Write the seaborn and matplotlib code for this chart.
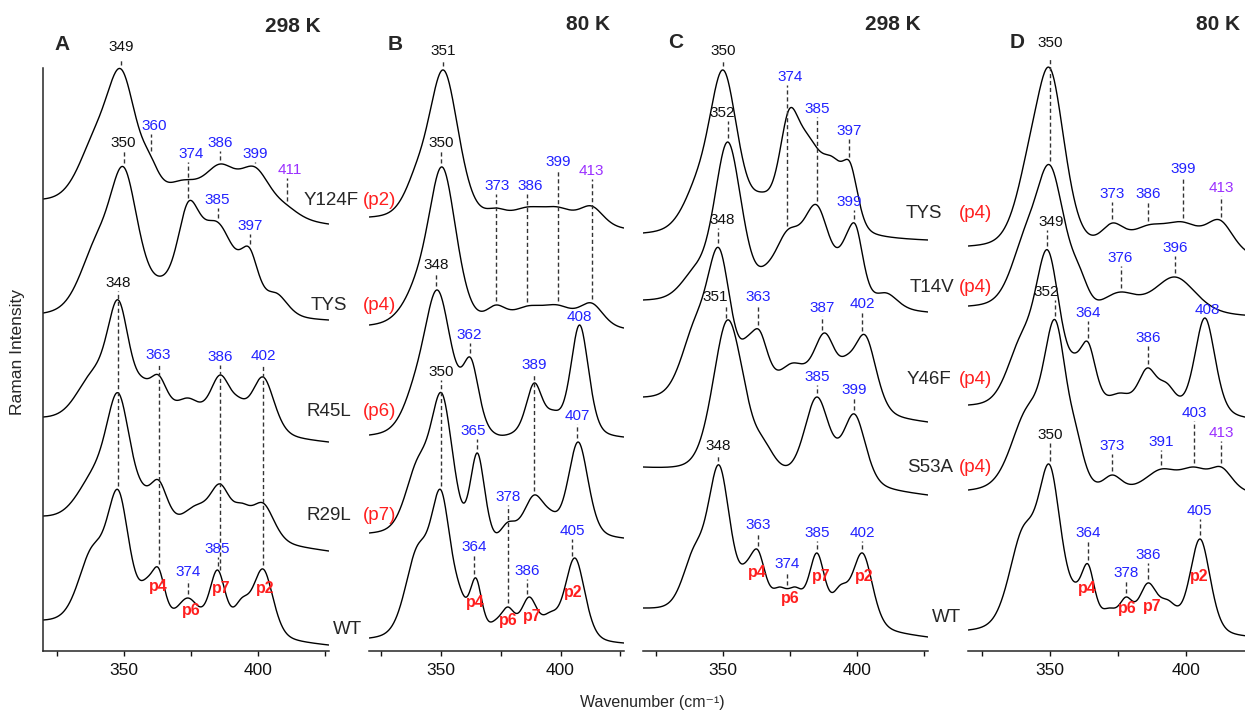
import numpy as np
import pandas as pd
import matplotlib
matplotlib.use("Agg")
import matplotlib.pyplot as plt
import seaborn as sns

# ---------------------------
# Data
# each point: (wavenumber cm-1, curve height there, band half width)
# heights in arbitrary intensity units (stack offsets included)
# ---------------------------
a_names = ["Y124F", "TYS", "R45L", "R29L", "WT"]
a_tags = ["(p2)", "(p4)", "(p6)", "(p7)", ""]
a_peaks = [
    [(338, 516, 7), (349, 582, 7), (360, 496, 4), (372, 471, 8), (386, 487, 7), (399, 484, 7), (411, 446, 6)],
    [(339, 412, 7), (350, 484, 6.5), (364, 375, 6), (374, 449, 5), (385, 429, 8), (397, 403, 4), (407, 358, 5)],
    [(338, 280, 7), (348, 351, 5), (357, 274, 4), (363, 276, 4), (374, 253, 6), (386, 276, 4.5),
     (393, 254, 4), (402, 274, 5)],
    [(338, 181, 7), (348, 258, 5.5), (357, 168, 4), (363, 171, 4), (377, 146, 6), (386, 167, 4.5),
     (394, 148, 4), (402, 148, 5)],
    [(338, 104, 6), (348, 161, 5), (358.5, 73, 3.5), (363, 83, 3), (374, 53, 5), (385, 81, 3.5),
     (394, 53, 3.5), (402, 82, 4.5)],
]
a_ends = [(452, 427), (338, 331), (234, 209), (135, 100), (31, 6)]

b_peaks = [
    [(339, 484, 6), (351, 581, 7.5), (373, 443, 5), (386, 444, 8), (399, 444, 8), (413, 445, 6)],
    [(339, 375, 7), (350.5, 484, 7), (373, 346, 5), (386, 345, 8), (399, 346, 8), (413, 348, 6)],
    [(338, 270, 6), (348.5, 361, 7), (362.5, 293, 4), (374.5, 216, 5), (389, 268, 4), (397, 241, 4),
     (408, 326, 4.5)],
    [(340, 192, 6), (350.3, 258, 5.5), (359.3, 148, 3.5), (365.2, 198, 3.5), (372.6, 119, 3.5), (378, 129, 3.5),
     (389, 156, 5), (396, 141, 4), (407.4, 209, 5)],
    [(340, 105, 6), (350, 161, 5), (358, 64, 3.5), (364.6, 73, 3), (372.6, 31, 3.5),
     (378, 44, 3.5), (386.9, 54, 4), (395.6, 39, 4), (406, 93, 5)],
]
b_ends = [(434, 423), (326, 323), (216, 214), (118, 113), (13, 8)]

c_names = ["TYS", "T14V", "Y46F", "S53A", "WT"]
c_tags = ["(p4)", "(p4)", "(p4)", "(p4)", ""]
c_peaks = [
    [(339, 471, 6), (350, 581, 6.5), (364.5, 459, 5), (374.5, 541, 4.5), (382, 515, 6), (391, 494, 5),
     (397.5, 488, 3.5)],
    [(339, 384, 6), (351.7, 509, 6), (358, 430, 4), (365.6, 386, 4.5), (374, 421, 6), (385, 446, 6),
     (395.4, 413, 4), (399.5, 426, 3.5), (411, 358, 5)],
    [(339, 330, 6), (348.5, 403, 5.5), (358.7, 314, 3.5), (363.5, 321, 4), (376, 288, 7), (388, 318, 5),
     (396, 296, 4), (403, 316, 5)],
    [(351.6, 331, 6.5), (357.4, 278, 4), (365, 213, 5), (385, 254, 5.5), (399, 237, 5)],
    [(339, 104, 5), (348.5, 186, 5), (358.5, 89, 3.5), (363, 101, 3.5), (371, 64, 3.5), (377, 64, 3.5),
     (385, 98, 3.5), (393.7, 66, 3.5), (402, 98, 4.5)],
]
c_ends = [(418, 411), (351, 339), (254, 229), (184, 156), (43, 14)]

d_peaks = [
    [(341.5, 501, 6), (350, 583, 6.5), (366.5, 416, 4), (373, 428, 5), (386, 426, 8),
     (399, 429, 8), (412.5, 431, 6)],
    [(340, 418, 6), (350, 486, 6.5), (361, 384, 4), (366, 354, 4), (376, 359, 7), (396, 374, 9)],
    [(339, 315, 6), (349.2, 401, 5.5), (359, 298, 3.5), (364, 309, 3.5), (375.8, 258, 5),
     (385.8, 283, 4), (393, 268, 4), (407, 333, 4.5)],
    [(341.5, 244, 7), (352, 331, 5), (359.8, 224, 3.5), (367.8, 169, 4), (373, 176, 4),
     (391, 182, 7), (403, 184, 6), (413, 184, 5)],
    [(340, 124, 6), (350, 186, 5), (359.2, 69, 3.5), (364, 87, 3), (371.8, 43, 3.5),
     (378, 54, 3), (386, 68, 4), (393.5, 51, 4), (405.2, 112, 4.5)],
]
d_ends = [(405, 395), (345, 335), (246, 232), (161, 158), (21, 14)]

# peak labels: (text, line x, text shift, label height, spectrum index, colour key)
a_marks = [
    ("349", 349, 0, 604, 0, "k"), ("360", 360, 1.5, 525, 0, "b"), ("350", 350, 0, 508, 1, "k"),
    ("374", 374, 1, 497, 1, "b"), ("386", 386, 0, 508, 0, "b"), ("399", 399, 0, 497, 0, "b"),
    ("411", 411, 1, 481, 0, "p"), ("385", 385, 0, 451, 1, "b"), ("397", 397, 0, 425, 1, "b"),
    ("348", 348, 0, 368, 4, "k"), ("363", 363, 0, 296, 4, "b"), ("386", 386, 0, 294, 4, "b"),
    ("402", 402, 0, 295, 4, "b"), ("374", 374, 0, 79, 4, "b"), ("385", 385, 0, 102, 4, "b"),
]
b_marks = [
    ("351", 351, 0, 600, 0, "k"), ("350", 350, 0, 508, 1, "k"), ("373", 373, 0.5, 465, 1, "b"),
    ("386", 386, 1.5, 465, 1, "b"), ("399", 399, 0, 489, 1, "b"), ("413", 413, 0, 480, 1, "p"),
    ("348", 348, 0, 386, 2, "k"), ("408", 408, 0, 334, 2, "b"), ("362", 362, 0, 316, 2, "b"),
    ("389", 389, 0, 286, 3, "b"), ("350", 350, 0, 279, 4, "k"), ("365", 365, -1.5, 220, 3, "b"),
    ("407", 407, 0, 235, 3, "b"), ("378", 378, 0, 154, 4, "b"), ("364", 364, 0, 104, 4, "b"),
    ("386", 386, 0, 80, 4, "b"), ("405", 405, 0, 120, 4, "b"),
]
c_marks = [
    ("350", 350, 0, 600, 0, "k"), ("374", 374, 1, 574, 1, "b"), ("352", 352, -2.5, 538, 1, "k"),
    ("385", 385, 0, 542, 1, "b"), ("397", 397, 0, 520, 0, "b"), ("399", 399, -2, 449, 1, "b"),
    ("348", 348, 1.5, 431, 2, "k"), ("351", 351, -4, 354, 3, "k"), ("363", 363, 0, 354, 2, "b"),
    ("387", 387, 0, 343, 2, "b"), ("402", 402, 0, 347, 2, "b"), ("385", 385, 0, 274, 3, "b"),
    ("399", 399, 0, 261, 3, "b"), ("348", 348, 0, 205, 4, "k"), ("363", 363, 0, 126, 4, "b"),
    ("374", 374, 0, 87, 4, "b"), ("385", 385, 0, 118, 4, "b"), ("402", 402, 0, 118, 4, "b"),
]
d_marks = [
    ("350", 350, 0, 608, 1, "k"), ("373", 373, 0, 457, 0, "b"), ("386", 386, 0, 457, 0, "b"),
    ("399", 399, 0, 482, 0, "b"), ("413", 413, 0, 463, 0, "p"), ("349", 349, 1.5, 429, 2, "k"),
    ("376", 376, 0, 393, 1, "b"), ("396", 396, 0, 403, 1, "b"), ("352", 352, -3.5, 359, 3, "k"),
    ("364", 364, 0, 338, 2, "b"), ("408", 408, 0, 341, 2, "b"), ("386", 386, 0, 313, 2, "b"),
    ("403", 403, 0, 238, 3, "b"), ("413", 413, 0, 218, 3, "p"), ("373", 373, 0, 205, 3, "b"),
    ("391", 391, 0, 209, 3, "b"), ("350", 350, 0, 216, 4, "k"), ("364", 364, 0, 118, 4, "b"),
    ("378", 378, 0, 78, 4, "b"), ("386", 386, 0, 96, 4, "b"), ("405", 405, 0, 140, 4, "b"),
]

# WT site labels: (text, x, height)
a_sites = [("p4", 362.9, 65), ("p6", 375.2, 41), ("p7", 386.4, 62), ("p2", 402.8, 62)]
b_sites = [("p4", 364.2, 48), ("p6", 378.0, 30), ("p7", 388.0, 35), ("p2", 405.2, 59)]
c_sites = [("p4", 362.6, 78), ("p6", 375.0, 52), ("p7", 386.5, 75), ("p2", 402.6, 74)]
d_sites = [("p4", 363.6, 63), ("p6", 378.3, 43), ("p7", 387.5, 44), ("p2", 404.8, 74)]

panel_letters = ["A", "B", "C", "D"]
panel_temps = ["298 K", "80 K", "298 K", "80 K"]

# ---------------------------
# Layout (pixels of the 1245x711 image)
# ---------------------------
W, H = 1245, 711
X_MIN, X_MAX = 320, 426.5
AX_BOTTOM, AX_TOP = 651, 60
panel_px = [(43.3, 2.68), (369.3, 2.39), (642.7, 2.68), (968.3, 2.72)]   # left edge, px per cm-1
letter_pos = [(62, 45), (395, 45), (676, 43), (1017, 43)]
temp_pos = [(293, 26), (588, 25), (893, 25), (1218, 25)]
a_label_y = [200, 305, 412, 515, 630]
a_name_x = [331, 329, 329, 329, 347]
c_label_y = [213, 287, 380, 468, 617]
c_name_x = [924, 932, 929, 930, 946]

COLORS = {"k": "#111111", "b": "#2222ff", "p": "#9b30ff"}
RED = "#ff1f1f"

wn = np.linspace(X_MIN, X_MAX, 800)


def profile(x, c, w, eta=0.35):
    u = (x - c) / w
    return (1 - eta) * np.exp(-np.log(2) * u ** 2) + eta / (1 + u ** 2)


def build_spectrum(peaks, ends):
    # band amplitudes + linear baseline so the curve passes through the read heights
    c = np.array([p[0] for p in peaks], float)
    h = np.array([p[1] for p in peaks], float)
    w = np.array([p[2] for p in peaks], float)
    pts = np.r_[c, X_MIN, X_MAX]
    target = np.r_[h, ends]
    t = (pts - X_MIN) / (X_MAX - X_MIN)
    M = np.column_stack([profile(pts, ci, wi) for ci, wi in zip(c, w)] + [1 - t, t])
    coef = np.linalg.solve(M, target)
    T = (wn - X_MIN) / (X_MAX - X_MIN)
    y = coef[-2] * (1 - T) + coef[-1] * T
    for a, ci, wi in zip(coef[:-2], c, w):
        y = y + a * profile(wn, ci, wi)
    return y


sns.set_theme(style="ticks")
plt.rcParams["font.family"] = ["Liberation Sans", "DejaVu Sans"]

fig = plt.figure(figsize=(W / 100, H / 100), dpi=100)


def fig_text(x, y, s, **kw):
    fig.text(x / W, 1 - y / H, s, **kw)


panels = [
    (a_names, a_peaks, a_ends, a_marks, a_sites),
    (a_names, b_peaks, b_ends, b_marks, b_sites),
    (c_names, c_peaks, c_ends, c_marks, c_sites),
    (c_names, d_peaks, d_ends, d_marks, d_sites),
]

for i, (names, peaks, ends, marks, sites) in enumerate(panels):
    left, scale = panel_px[i]
    width = (X_MAX - X_MIN) * scale
    ax = fig.add_axes([left / W, (H - AX_BOTTOM) / H, width / W, (AX_BOTTOM - AX_TOP) / H])

    curves = [build_spectrum(p, e) for p, e in zip(peaks, ends)]
    df = pd.concat([pd.DataFrame({"wavenumber": wn, "intensity": y, "sample": f"{n}_{k}"})
                    for k, (n, y) in enumerate(zip(names, curves))])
    sns.lineplot(data=df, x="wavenumber", y="intensity", units="sample", estimator=None,
                 sort=False, color="black", lw=1.0, ax=ax, legend=False)

    for text, xl, dx, ty, k, ck in marks:
        yc = np.interp(xl, wn, curves[k])
        top, bottom = ty - 8, yc + 4
        if top > bottom:
            ax.plot([xl, xl], [bottom, top], ls=(0, (3, 2)), color="#333333", lw=1.0)
        ax.text(xl + dx, ty, text, ha="center", va="center", fontsize=11,
                color=COLORS[ck], clip_on=False)

    for text, xs, ys in sites:
        ax.text(xs, ys, text, ha="center", va="center", fontsize=11.5,
                fontweight="bold", color=RED)

    ax.set_xlim(X_MIN, X_MAX)
    ax.set_ylim(0, AX_BOTTOM - AX_TOP)
    ax.set_xticks([350, 400])
    ax.set_xticks([325, 375, 425], minor=True)
    ax.set_yticks([])
    ax.set_xlabel("")
    ax.set_ylabel("")
    ax.tick_params(axis="x", which="both", direction="out", length=3.5, width=1.0,
                   labelsize=12.5, pad=5, colors="#111111")
    sns.despine(ax=ax, left=(i != 0))
    ax.spines["bottom"].set_linewidth(1.1)
    if i == 0:
        ax.spines["left"].set_linewidth(1.1)
        ax.spines["left"].set_bounds(0, AX_BOTTOM - 68)

    fig_text(*letter_pos[i], panel_letters[i], ha="center", va="center",
             fontsize=15, fontweight="bold")
    fig_text(*temp_pos[i], panel_temps[i], ha="center", va="center",
             fontsize=15, fontweight="bold")

# sample names between panels
for name, tag, x, y in zip(a_names, a_tags, a_name_x, a_label_y):
    fig_text(x, y, name, ha="center", va="center", fontsize=13.5)
    if tag:
        fig_text(380, y, tag, ha="center", va="center", fontsize=13.5, color=RED)
for name, tag, x, y in zip(c_names, c_tags, c_name_x, c_label_y):
    fig_text(x, y, name, ha="center", va="center", fontsize=13.5)
    if tag:
        fig_text(975, y, tag, ha="center", va="center", fontsize=13.5, color=RED)

fig_text(18, 352, "Raman Intensity", rotation=90, ha="center", va="center", fontsize=12.5)
fig_text(652, 702, "Wavenumber (cm\u207b\u00b9)", ha="center", va="center", fontsize=11.5)

fig.savefig("out.png", dpi=100)
